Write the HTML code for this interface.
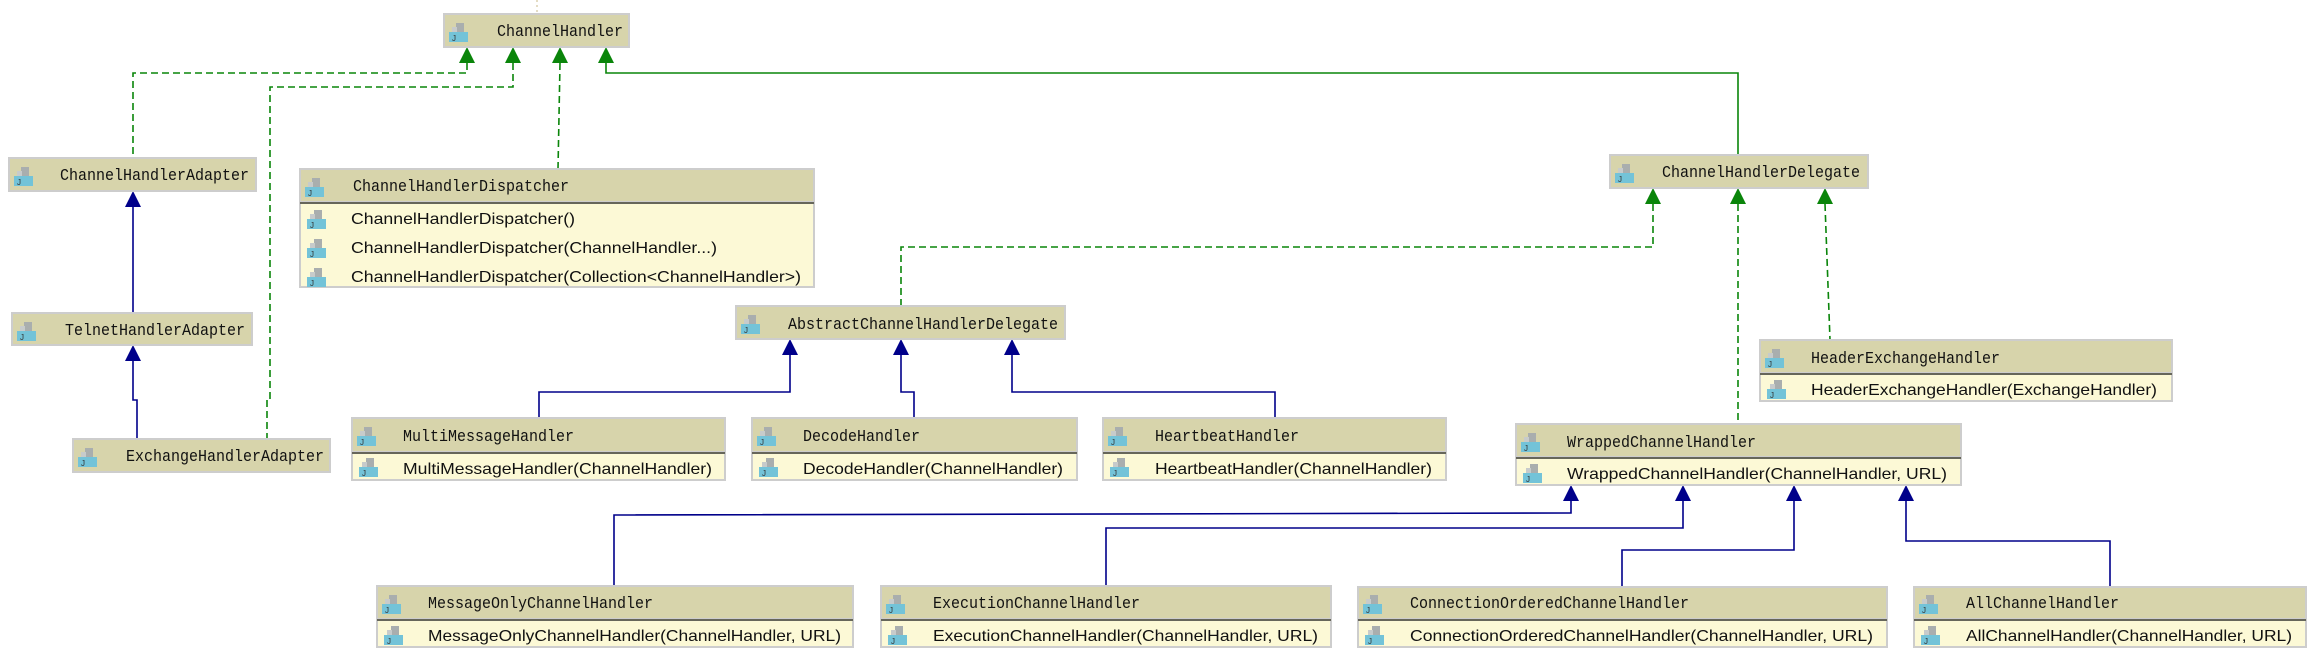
<!DOCTYPE html>
<html><head><meta charset="utf-8"><style>
html,body{margin:0;padding:0;background:#fff;}
svg{display:block;}
.h{font-family:"Liberation Mono","DejaVu Sans Mono",monospace;font-size:17px;fill:#111;}
.m{font-family:"Liberation Sans","DejaVu Sans",sans-serif;font-size:16px;fill:#111;}
.hd{fill:#d7d4ab;stroke:#cdcdcd;stroke-width:2;}
.bd{fill:#fcf9d6;stroke:#cdcdcd;stroke-width:2;}
.g{stroke:#0a850a;stroke-width:1.6;fill:none;}
.gd{stroke:#0a850a;stroke-width:1.6;fill:none;stroke-dasharray:7,4;}
.b{stroke:#00008a;stroke-width:1.6;fill:none;}
.ga{fill:#0a850a;}
.ba{fill:#00008a;}
</style></head><body>
<svg width="2314" height="662" viewBox="0 0 2314 662" xmlns="http://www.w3.org/2000/svg">
<defs>
<g id="ic"><rect x="10" y="0" width="8" height="9" fill="#a9aeae"/><rect x="6" y="4" width="5" height="5" fill="#c7cbcb"/><rect x="3" y="9" width="19" height="10" fill="#73c3d8"/><text x="6" y="18" font-family="Liberation Sans,sans-serif" font-size="8" fill="#333">J</text></g>
</defs>
<line x1="537" y1="0" x2="537" y2="12" stroke="#c9b98a" stroke-width="1" stroke-dasharray="2,3"/>

<polyline class="gd" points="467,63 467,73 133,73 133,158"/>
<polyline class="gd" points="513,63 513,87 270,87 270,400 267,400 267,439"/>
<polyline class="gd" points="560,63 558,169"/>
<polyline class="g" points="606,63 606,73 1738,73 1738,155"/>
<polyline class="b" points="133,207 133,313"/>
<polyline class="b" points="133,361 133,400 137,400 137,439"/>
<polyline class="gd" points="1653,204 1653,247 901,247 901,306"/>
<polyline class="gd" points="1738,204 1738,424"/>
<polyline class="gd" points="1825,204 1830,340"/>
<polyline class="b" points="790,355 790,392 539,392 539,418"/>
<polyline class="b" points="901,355 901,392 914,392 914,418"/>
<polyline class="b" points="1012,355 1012,392 1275,392 1275,418"/>
<polyline class="b" points="1571,501 1571,513 614,515 614,586"/>
<polyline class="b" points="1683,501 1683,528 1106,528 1106,586"/>
<polyline class="b" points="1794,501 1794,550 1622,550 1622,587"/>
<polyline class="b" points="1906,501 1906,541 2110,541 2110,587"/>

<g class="ga">
<polygon points="467,47 459,63 475,63"/><polygon points="513,47 505,63 521,63"/>
<polygon points="560,47 552,63 568,63"/><polygon points="606,47 598,63 614,63"/>
<polygon points="1653,188 1645,204 1661,204"/><polygon points="1738,188 1730,204 1746,204"/>
<polygon points="1825,188 1817,204 1833,204"/>
</g>
<g class="ba">
<polygon points="133,191 125,207 141,207"/><polygon points="133,345 125,361 141,361"/>
<polygon points="790,339 782,355 798,355"/><polygon points="901,339 893,355 909,355"/>
<polygon points="1012,339 1004,355 1020,355"/>
<polygon points="1571,485 1563,501 1579,501"/><polygon points="1683,485 1675,501 1691,501"/>
<polygon points="1794,485 1786,501 1802,501"/><polygon points="1906,485 1898,501 1914,501"/>
</g>

<rect class="hd" x="444" y="14" width="185" height="33"/><use href="#ic" x="446" y="23"/><text class="h" x="497" y="36" textLength="126" lengthAdjust="spacingAndGlyphs">ChannelHandler</text>
<rect class="hd" x="9" y="158" width="247" height="33"/><use href="#ic" x="11" y="167"/><text class="h" x="60" y="180" textLength="189" lengthAdjust="spacingAndGlyphs">ChannelHandlerAdapter</text>
<rect class="hd" x="12" y="313" width="240" height="32"/><use href="#ic" x="14" y="322"/><text class="h" x="65" y="335" textLength="180" lengthAdjust="spacingAndGlyphs">TelnetHandlerAdapter</text>
<rect class="hd" x="73" y="439" width="257" height="33"/><use href="#ic" x="75" y="448"/><text class="h" x="126" y="461" textLength="198" lengthAdjust="spacingAndGlyphs">ExchangeHandlerAdapter</text>
<rect class="hd" x="736" y="306" width="329" height="33"/><use href="#ic" x="738" y="315"/><text class="h" x="788" y="329" textLength="270" lengthAdjust="spacingAndGlyphs">AbstractChannelHandlerDelegate</text>
<rect class="hd" x="1610" y="155" width="258" height="33"/><use href="#ic" x="1612" y="164"/><text class="h" x="1662" y="177" textLength="198" lengthAdjust="spacingAndGlyphs">ChannelHandlerDelegate</text>

<rect class="bd" x="300" y="169" width="514" height="118"/>
<rect class="hd" x="300" y="169" width="514" height="33"/>
<line x1="300" y1="203" x2="814" y2="203" stroke="#66665a" stroke-width="2"/>
<use href="#ic" x="302" y="178"/><text class="h" x="353" y="191" textLength="216" lengthAdjust="spacingAndGlyphs">ChannelHandlerDispatcher</text>
<use href="#ic" x="304" y="210"/><text class="m" x="351" y="224" textLength="224" lengthAdjust="spacingAndGlyphs">ChannelHandlerDispatcher()</text>
<use href="#ic" x="304" y="239"/><text class="m" x="351" y="253" textLength="366" lengthAdjust="spacingAndGlyphs">ChannelHandlerDispatcher(ChannelHandler...)</text>
<use href="#ic" x="304" y="268"/><text class="m" x="351" y="282" textLength="450" lengthAdjust="spacingAndGlyphs">ChannelHandlerDispatcher(Collection&lt;ChannelHandler&gt;)</text>

<g>
<rect class="bd" x="352" y="418" width="373" height="62"/><rect class="hd" x="352" y="418" width="373" height="34"/><line x1="352" y1="453" x2="725" y2="453" stroke="#66665a" stroke-width="2"/>
<use href="#ic" x="354" y="427"/><text class="h" x="403" y="441" textLength="171" lengthAdjust="spacingAndGlyphs">MultiMessageHandler</text>
<use href="#ic" x="356" y="458"/><text class="m" x="403" y="474" textLength="309" lengthAdjust="spacingAndGlyphs">MultiMessageHandler(ChannelHandler)</text>
</g>
<g>
<rect class="bd" x="752" y="418" width="325" height="62"/><rect class="hd" x="752" y="418" width="325" height="34"/><line x1="752" y1="453" x2="1077" y2="453" stroke="#66665a" stroke-width="2"/>
<use href="#ic" x="754" y="427"/><text class="h" x="803" y="441" textLength="117" lengthAdjust="spacingAndGlyphs">DecodeHandler</text>
<use href="#ic" x="756" y="458"/><text class="m" x="803" y="474" textLength="260" lengthAdjust="spacingAndGlyphs">DecodeHandler(ChannelHandler)</text>
</g>
<g>
<rect class="bd" x="1103" y="418" width="343" height="62"/><rect class="hd" x="1103" y="418" width="343" height="34"/><line x1="1103" y1="453" x2="1446" y2="453" stroke="#66665a" stroke-width="2"/>
<use href="#ic" x="1105" y="427"/><text class="h" x="1155" y="441" textLength="144" lengthAdjust="spacingAndGlyphs">HeartbeatHandler</text>
<use href="#ic" x="1107" y="458"/><text class="m" x="1155" y="474" textLength="277" lengthAdjust="spacingAndGlyphs">HeartbeatHandler(ChannelHandler)</text>
</g>
<g>
<rect class="bd" x="1760" y="340" width="412" height="61"/><rect class="hd" x="1760" y="340" width="412" height="33"/><line x1="1760" y1="374" x2="2172" y2="374" stroke="#66665a" stroke-width="2"/>
<use href="#ic" x="1762" y="349"/><text class="h" x="1811" y="363" textLength="189" lengthAdjust="spacingAndGlyphs">HeaderExchangeHandler</text>
<use href="#ic" x="1764" y="380"/><text class="m" x="1811" y="395" textLength="346" lengthAdjust="spacingAndGlyphs">HeaderExchangeHandler(ExchangeHandler)</text>
</g>
<g>
<rect class="bd" x="1516" y="424" width="445" height="61"/><rect class="hd" x="1516" y="424" width="445" height="33"/><line x1="1516" y1="458" x2="1961" y2="458" stroke="#66665a" stroke-width="2"/>
<use href="#ic" x="1518" y="433"/><text class="h" x="1567" y="447" textLength="189" lengthAdjust="spacingAndGlyphs">WrappedChannelHandler</text>
<use href="#ic" x="1520" y="464"/><text class="m" x="1567" y="479" textLength="380" lengthAdjust="spacingAndGlyphs">WrappedChannelHandler(ChannelHandler, URL)</text>
</g>
<g>
<rect class="bd" x="377" y="586" width="476" height="61"/><rect class="hd" x="377" y="586" width="476" height="33"/><line x1="377" y1="620" x2="853" y2="620" stroke="#66665a" stroke-width="2"/>
<use href="#ic" x="379" y="595"/><text class="h" x="428" y="608" textLength="225" lengthAdjust="spacingAndGlyphs">MessageOnlyChannelHandler</text>
<use href="#ic" x="381" y="626"/><text class="m" x="428" y="641" textLength="413" lengthAdjust="spacingAndGlyphs">MessageOnlyChannelHandler(ChannelHandler, URL)</text>
</g>
<g>
<rect class="bd" x="881" y="586" width="450" height="61"/><rect class="hd" x="881" y="586" width="450" height="33"/><line x1="881" y1="620" x2="1331" y2="620" stroke="#66665a" stroke-width="2"/>
<use href="#ic" x="883" y="595"/><text class="h" x="933" y="608" textLength="207" lengthAdjust="spacingAndGlyphs">ExecutionChannelHandler</text>
<use href="#ic" x="885" y="626"/><text class="m" x="933" y="641" textLength="385" lengthAdjust="spacingAndGlyphs">ExecutionChannelHandler(ChannelHandler, URL)</text>
</g>
<g>
<rect class="bd" x="1358" y="587" width="529" height="60"/><rect class="hd" x="1358" y="587" width="529" height="32"/><line x1="1358" y1="620" x2="1887" y2="620" stroke="#66665a" stroke-width="2"/>
<use href="#ic" x="1360" y="595"/><text class="h" x="1410" y="608" textLength="279" lengthAdjust="spacingAndGlyphs">ConnectionOrderedChannelHandler</text>
<use href="#ic" x="1362" y="626"/><text class="m" x="1410" y="641" textLength="463" lengthAdjust="spacingAndGlyphs">ConnectionOrderedChannelHandler(ChannelHandler, URL)</text>
</g>
<g>
<rect class="bd" x="1914" y="587" width="392" height="60"/><rect class="hd" x="1914" y="587" width="392" height="32"/><line x1="1914" y1="620" x2="2306" y2="620" stroke="#66665a" stroke-width="2"/>
<use href="#ic" x="1916" y="595"/><text class="h" x="1966" y="608" textLength="153" lengthAdjust="spacingAndGlyphs">AllChannelHandler</text>
<use href="#ic" x="1918" y="626"/><text class="m" x="1966" y="641" textLength="326" lengthAdjust="spacingAndGlyphs">AllChannelHandler(ChannelHandler, URL)</text>
</g>
</svg>
</body></html>
